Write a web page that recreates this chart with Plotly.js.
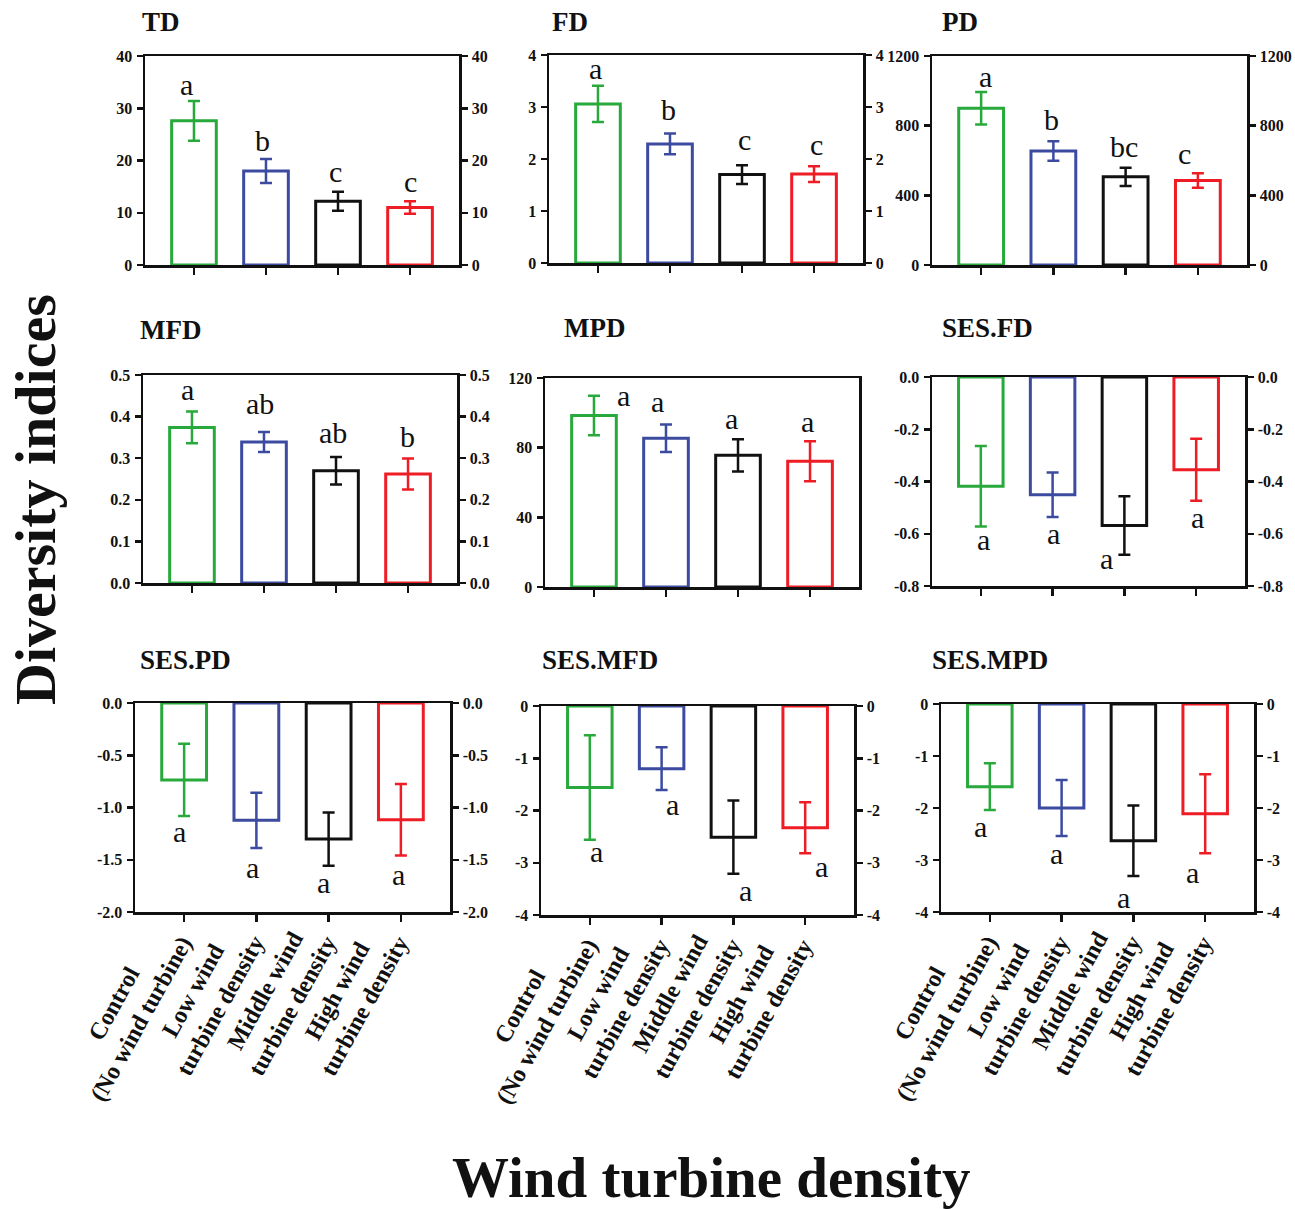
<!DOCTYPE html>
<html><head><meta charset="utf-8">
<script src="https://cdn.plot.ly/plotly-3.0.1.min.js"></script>
<style>body{margin:0;background:#fff}</style></head>
<body><div id="chart" style="width:1295px;height:1209px"></div>
<script>
// ---------- DATA ----------
const categories = ['Control (No wind turbine)', 'Low wind turbine density', 'Middle wind turbine density', 'High wind turbine density'];
const tickLabels = ['Control<br>(No wind turbine)', 'Low wind<br>turbine density', 'Middle wind<br>turbine density', 'High wind<br>turbine density'];
const panelNames = ['TD', 'FD', 'PD', 'MFD', 'MPD', 'SES.FD', 'SES.PD', 'SES.MFD', 'SES.MPD'];

const TD_mean = [27.6, 18.0, 12.2, 11.0];
const TD_se = [3.8, 2.3, 1.8, 1.2];
const TD_letters = ['a', 'b', 'c', 'c'];
const TD_ticks = [0, 10, 20, 30, 40];

const FD_mean = [3.06, 2.29, 1.70, 1.71];
const FD_se = [0.35, 0.20, 0.18, 0.15];
const FD_letters = ['a', 'b', 'c', 'c'];
const FD_ticks = [0, 1, 2, 3, 4];

const PD_mean = [900, 655, 506, 485];
const PD_se = [93, 56, 52, 42];
const PD_letters = ['a', 'b', 'bc', 'c'];
const PD_ticks = [0, 400, 800, 1200];

const MFD_mean = [0.374, 0.339, 0.270, 0.262];
const MFD_se = [0.038, 0.024, 0.033, 0.037];
const MFD_letters = ['a', 'ab', 'ab', 'b'];
const MFD_ticks = [0, 0.1, 0.2, 0.3, 0.4, 0.5];

const MPD_mean = [98.5, 85.4, 75.6, 72.2];
const MPD_se = [11.3, 7.9, 9.3, 11.5];
const MPD_letters = ['a', 'a', 'a', 'a'];
const MPD_ticks = [0, 40, 80, 120];

const SESFD_mean = [-0.418, -0.451, -0.568, -0.355];
const SESFD_se = [0.154, 0.085, 0.112, 0.119];
const SESFD_letters = ['a', 'a', 'a', 'a'];
const SESFD_ticks = [-0.8, -0.6, -0.4, -0.2, 0.0];

const SESPD_mean = [-0.736, -1.123, -1.302, -1.117];
const SESPD_se = [0.345, 0.265, 0.255, 0.343];
const SESPD_letters = ['a', 'a', 'a', 'a'];
const SESPD_ticks = [-2.0, -1.5, -1.0, -0.5, 0.0];

const SESMFD_mean = [-1.56, -1.20, -2.51, -2.33];
const SESMFD_se = [1.00, 0.41, 0.70, 0.49];
const SESMFD_letters = ['a', 'a', 'a', 'a'];
const SESMFD_ticks = [-4, -3, -2, -1, 0];

const SESMPD_mean = [-1.59, -2.00, -2.63, -2.11];
const SESMPD_se = [0.45, 0.54, 0.68, 0.76];
const SESMPD_letters = ['a', 'a', 'a', 'a'];
const SESMPD_ticks = [-4, -3, -2, -1, 0];

// ---------- STYLE / LAYOUT ----------
const colors = ['#27A93B', '#3C4BA0', '#111111', '#EE1C25'];
const FONT = "'Liberation Serif', 'Times New Roman', serif";
const W = 1295, H = 1209;
// plot boxes in pixels [left, right, top, bottom]
const boxes = [
  [145, 459, 56, 265], [549, 863, 55, 263], [932, 1247, 56, 265],
  [143, 457, 375, 583], [545, 859, 378, 587], [932, 1245, 377, 586],
  [135, 450, 703, 912], [541, 854, 706, 915], [941, 1254, 704, 912]
];
const titlePos = [[140, 22], [550, 22], [940, 22], [138, 330], [562, 328], [940, 328], [138, 660], [540, 660], [930, 660]];
const decimals = [0, 0, 0, 1, 0, 1, 1, 0, 0];
const rightAxis = [true, true, true, true, false, true, true, true, true];
// letter offsets in pixels [dx, dy(down)] relative to error bar end
const letterShift = [
  [[-7, -13], [-3, -15], [-3, -17], [0, -17]],
  [[-2, -14], [-1, -21], [2, -23], [2, -19]],
  [[4, -13], [-2, -19], [-2, -18], [-13, -17]],
  [[-4, -19], [-4, -25], [-3, -21], [-1, -19]],
  [[30, 3], [-8, -20], [-7, -18], [-3, -17]],
  [[3, 16], [1, 19], [-18, 7], [1, 20]],
  [[-5, 19], [-4, 22], [-5, 20], [-2, 22]],
  [[7, 15], [11, 17], [12, 20], [16, 16]],
  [[-9, 19], [-5, 20], [-10, 24], [-13, 22]]
];

const panels = [
  [TD_mean, TD_se, TD_letters, TD_ticks],
  [FD_mean, FD_se, FD_letters, FD_ticks],
  [PD_mean, PD_se, PD_letters, PD_ticks],
  [MFD_mean, MFD_se, MFD_letters, MFD_ticks],
  [MPD_mean, MPD_se, MPD_letters, MPD_ticks],
  [SESFD_mean, SESFD_se, SESFD_letters, SESFD_ticks],
  [SESPD_mean, SESPD_se, SESPD_letters, SESPD_ticks],
  [SESMFD_mean, SESMFD_se, SESMFD_letters, SESMFD_ticks],
  [SESMPD_mean, SESMPD_se, SESMPD_letters, SESMPD_ticks]
];

const traces = [];
const layout = {
  width: W, height: H, margin: {l: 0, r: 0, t: 0, b: 0},
  paper_bgcolor: '#fff', plot_bgcolor: 'rgba(0,0,0,0)',
  showlegend: false, barmode: 'overlay',
  font: {family: FONT, color: '#111'},
  annotations: []
};
const LW = 2.5;
const tickFont = {family: FONT, size: 16, weight: 'bold', color: '#111'};

panels.forEach((p, k) => {
  const [mean, se, letters, ticks] = p;
  const n = k + 1;
  const xa = 'x' + n, ya = 'y' + n;
  const b = boxes[k];
  const xd = [b[0] / W, b[1] / W];
  const yd = [1 - b[3] / H, 1 - b[2] / H];
  const tickText = ticks.map(v => '<b>' + v.toFixed(decimals[k]) + '</b>');
  const yr = [ticks[0], ticks[ticks.length - 1]];

  layout['xaxis' + n] = {
    domain: xd, anchor: ya, type: 'category', range: [-0.68, 3.68],
    showline: true, linecolor: '#111', linewidth: LW, mirror: true,
    ticks: 'outside', ticklen: 7, tickwidth: LW, tickcolor: '#111',
    showticklabels: false, showgrid: false, zeroline: false, fixedrange: true
  };
  layout['yaxis' + n] = {
    domain: yd, anchor: xa, range: yr,
    tickvals: ticks, ticktext: tickText,
    showline: true, linecolor: '#111', linewidth: LW, mirror: true,
    ticks: 'outside', ticklen: 6, tickwidth: LW, tickcolor: '#111',
    tickfont: tickFont, ticklabelstandoff: 1,
    showgrid: false, zeroline: false, fixedrange: true
  };
  if (rightAxis[k]) {
    const m = n + 9;
    layout['yaxis' + m] = {
      overlaying: ya, side: 'right', anchor: xa, range: yr,
      tickvals: ticks, ticktext: tickText,
      showline: true, linecolor: '#111', linewidth: LW,
      ticks: 'outside', ticklen: 6, tickwidth: LW, tickcolor: '#111',
      tickfont: tickFont, ticklabelstandoff: 1,
      showgrid: false, zeroline: false, fixedrange: true
    };
    traces.push({
      type: 'scatter', mode: 'markers', x: categories, y: mean,
      xaxis: xa, yaxis: 'y' + m, marker: {opacity: 0}, hoverinfo: 'skip'
    });
  }

  categories.forEach((c, i) => {
    traces.push({
      type: 'bar', x: [c], y: [mean[i]], xaxis: xa, yaxis: ya, width: 0.62,
      marker: {color: '#ffffff', line: {color: colors[i], width: 3}},
      error_y: {type: 'data', array: [se[i]], visible: true, color: colors[i], thickness: 2.5, width: 6},
      hoverinfo: 'skip'
    });
    const neg = mean[i] < 0;
    const end = neg ? mean[i] - se[i] : mean[i] + se[i];
    const s = letterShift[k][i];
    layout.annotations.push({
      xref: xa, yref: ya, x: c, y: end, text: letters[i], showarrow: false,
      xanchor: 'center', yanchor: 'middle', xshift: s[0], yshift: -s[1] + 3,
      font: {family: FONT, size: 30, color: '#111'}
    });
  });

  // panel title
  layout.annotations.push({
    xref: 'paper', yref: 'paper', x: titlePos[k][0] / W, y: 1 - titlePos[k][1] / H,
    xanchor: 'left', yanchor: 'middle', text: '<b>' + panelNames[k] + '</b>', showarrow: false,
    font: {family: FONT, size: 27, color: '#111'}
  });

  // rotated category labels for bottom row
  if (k >= 6) {
    categories.forEach((c, i) => {
      layout.annotations.push({
        xref: xa, yref: ya + ' domain', x: c, y: 0, text: '<b>' + tickLabels[i].replace('<br>', '</b><br><b>') + '</b>', showarrow: false,
        textangle: -61, xanchor: 'right', yanchor: 'top', xshift: 15, yshift: -2,
        align: 'center',
        font: {family: FONT, size: 24, color: '#111'}
      });
    });
  }
});

layout.annotations.push({
  xref: 'paper', yref: 'paper', x: 35 / W, y: 1 - 500 / H, text: '<b>Diversity indices</b>',
  textangle: -90, showarrow: false, xanchor: 'center', yanchor: 'middle',
  font: {family: FONT, size: 58, color: '#111'}
});
layout.annotations.push({
  xref: 'paper', yref: 'paper', x: 711 / W, y: 1 - 1177 / H, text: '<b>Wind turbine density</b>',
  showarrow: false, xanchor: 'center', yanchor: 'middle',
  font: {family: FONT, size: 57, color: '#111'}
});

Plotly.newPlot('chart', traces, layout, {staticPlot: true});
</script>
</body></html>
